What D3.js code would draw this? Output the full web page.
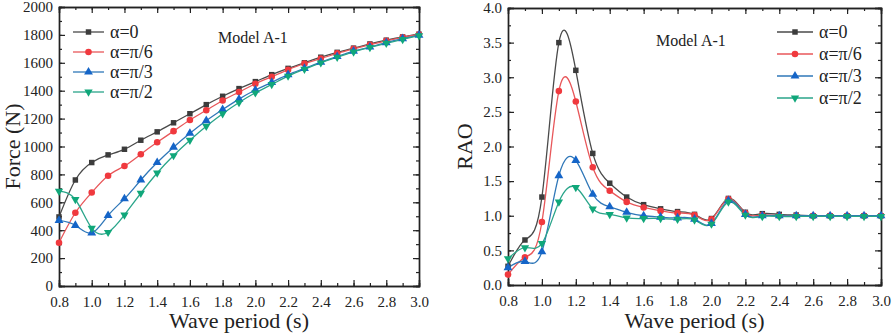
<!DOCTYPE html>
<html>
<head>
<meta charset="utf-8">
<script src="https://cdn.jsdelivr.net/npm/d3@7"></script>
<style>
  body { margin: 0; background: #fff; }
  svg, svg text { font-family: "Liberation Serif", "Times New Roman", serif !important; }
</style>
</head>
<body>
<div id="chart"></div>
<script>
// wave periods, shared by both panels
const periods = [0.8, 0.9, 1.0, 1.1, 1.2, 1.3, 1.4, 1.5, 1.6, 1.7, 1.8, 1.9, 2.0, 2.1, 2.2, 2.3, 2.4, 2.5, 2.6, 2.7, 2.8, 2.9, 3.0]
const seriesNames = ['α=0', 'α=π/6', 'α=π/3', 'α=π/2']

// force (N)
const force0 = [495, 760, 885, 940, 980, 1045, 1105, 1170, 1235, 1300, 1360, 1415, 1465, 1515, 1560, 1600, 1640, 1675, 1705, 1735, 1762, 1785, 1805]
const force30 = [310, 525, 670, 790, 860, 945, 1030, 1110, 1190, 1260, 1330, 1390, 1450, 1500, 1550, 1595, 1630, 1668, 1700, 1730, 1758, 1783, 1803]
const force60 = [470, 435, 380, 505, 625, 760, 885, 995, 1095, 1185, 1265, 1340, 1405, 1460, 1515, 1560, 1605, 1645, 1683, 1713, 1745, 1773, 1798]
const force90 = [680, 620, 415, 385, 510, 665, 810, 935, 1045, 1145, 1235, 1315, 1385, 1445, 1505, 1555, 1600, 1640, 1678, 1710, 1740, 1768, 1795]

// RAO
const rao0 = [0.27, 0.65, 1.27, 3.5, 3.1, 1.9, 1.47, 1.27, 1.16, 1.10, 1.06, 1.02, 0.96, 1.25, 1.05, 1.03, 1.02, 1.01, 1.0, 1.0, 1.0, 1.0, 1.0]
const rao30 = [0.15, 0.40, 0.91, 2.8, 2.65, 1.7, 1.36, 1.20, 1.12, 1.07, 1.04, 1.01, 0.95, 1.24, 1.04, 1.01, 1.0, 1.0, 1.0, 1.0, 1.0, 1.0, 1.0]
const rao60 = [0.25, 0.34, 0.48, 1.58, 1.80, 1.31, 1.13, 1.05, 1.00, 0.98, 0.97, 0.95, 0.89, 1.22, 1.02, 1.0, 1.0, 1.0, 1.0, 1.0, 1.0, 1.0, 1.0]
const rao90 = [0.38, 0.54, 0.60, 1.20, 1.41, 1.10, 1.02, 0.97, 0.96, 0.96, 0.95, 0.94, 0.88, 1.20, 1.01, 0.99, 0.99, 0.99, 0.99, 0.99, 0.99, 0.99, 0.99]

const xTicks = [0.8, 1.0, 1.2, 1.4, 1.6, 1.8, 2.0, 2.2, 2.4, 2.6, 2.8, 3.0]
const forceTicks = [0, 200, 400, 600, 800, 1000, 1200, 1400, 1600, 1800, 2000]
const raoTicks = [0, 0.5, 1.0, 1.5, 2.0, 2.5, 3.0, 3.5, 4.0]

const lineColors = ['#4a4a4a', '#e8575a', '#2f77b8', '#2aa58a']
const markColors = ['#3c3c3c', '#f0393e', '#1565c8', '#10a77a']
const markTypes = [d3.symbolSquare, d3.symbolCircle, d3.symbolTriangle, 'down']

const svg = d3.select('#chart').append('svg').attr('width', 892).attr('height', 333)
  .style('font-family', '"Liberation Serif", serif')

function marker (g, i, x, y) {
  if (markTypes[i] === 'down') {
    g.append('path').attr('d', d3.symbol(d3.symbolTriangle, 30)())
      .attr('transform', 'translate(' + x + ',' + y + ') rotate(180)')
      .attr('fill', markColors[i])
  } else {
    const size = markTypes[i] === d3.symbolSquare ? 30 : 34
    g.append('path').attr('d', d3.symbol(markTypes[i], size)())
      .attr('transform', 'translate(' + x + ',' + y + ')')
      .attr('fill', markColors[i])
  }
}

function panel (opt) {
  const x = d3.scaleLinear().domain([0.8, 3.0]).range([opt.l, opt.r])
  const y = d3.scaleLinear().domain(opt.yDomain).range([opt.b, opt.t])
  const g = svg.append('g')

  // clip for curves
  const clipId = 'clip' + opt.l
  g.append('clipPath').attr('id', clipId).append('rect')
    .attr('x', opt.l).attr('y', opt.t).attr('width', opt.r - opt.l).attr('height', opt.b - opt.t)

  const xMinor = d3.range(8, 31).map(d => d / 10)
  const yMinor = d3.range(0, opt.yTicks.length * 2 - 1).map(i => opt.yDomain[0] + i * opt.yStep / 2)

  // bottom / top axes
  g.append('g').attr('transform', 'translate(0,' + opt.b + ')')
    .call(d3.axisBottom(x).tickValues(xMinor).tickSize(-3).tickFormat(''))
  g.append('g').attr('transform', 'translate(0,' + opt.b + ')')
    .call(d3.axisBottom(x).tickValues(xTicks).tickSize(-6).tickPadding(10).tickFormat(d3.format('.1f')))
  g.append('g').attr('transform', 'translate(0,' + opt.t + ')')
    .call(d3.axisTop(x).tickValues(xMinor).tickSize(-3).tickFormat(''))
  g.append('g').attr('transform', 'translate(0,' + opt.t + ')')
    .call(d3.axisTop(x).tickValues(xTicks).tickSize(-6).tickFormat(''))
  // left / right axes
  g.append('g').attr('transform', 'translate(' + opt.l + ',0)')
    .call(d3.axisLeft(y).tickValues(yMinor).tickSize(-3).tickFormat(''))
  g.append('g').attr('transform', 'translate(' + opt.l + ',0)')
    .call(d3.axisLeft(y).tickValues(opt.yTicks).tickSize(-6).tickPadding(6).tickFormat(opt.yFormat))
  g.append('g').attr('transform', 'translate(' + opt.r + ',0)')
    .call(d3.axisRight(y).tickValues(yMinor).tickSize(-3).tickFormat(''))
  g.append('g').attr('transform', 'translate(' + opt.r + ',0)')
    .call(d3.axisRight(y).tickValues(opt.yTicks).tickSize(-6).tickFormat(''))

  g.selectAll('g').attr('font-family', null)
  g.selectAll('.domain').attr('stroke', '#222').attr('stroke-width', 1.4)
  g.selectAll('.tick line').attr('stroke', '#222').attr('stroke-width', 1.2)
  g.selectAll('.tick text').attr('font-size', 15).attr('fill', '#222')

  // curves
  const line = d3.line().x((d, i) => x(periods[i])).y(d => y(d)).curve(d3.curveNatural)
  opt.series.forEach(function (s, i) {
    g.append('path').attr('d', line(s)).attr('fill', 'none')
      .attr('stroke', lineColors[i]).attr('stroke-width', 1.3)
      .attr('clip-path', 'url(#' + clipId + ')')
  })
  opt.series.forEach(function (s, i) {
    s.forEach(function (v, j) { marker(g, i, x(periods[j]), y(v)) })
  })

  // legend
  seriesNames.forEach(function (name, i) {
    const ly = opt.legY + i * opt.legDy
    g.append('line').attr('x1', opt.legX).attr('x2', opt.legX + opt.legW)
      .attr('y1', ly).attr('y2', ly).attr('stroke', lineColors[i]).attr('stroke-width', 1.3)
    marker(g, i, opt.legX + opt.legW / 2, ly)
    g.append('text').attr('x', opt.legX + opt.legW + 6).attr('y', ly + 6)
      .attr('font-size', 18).attr('fill', '#222').text(name)
  })

  g.append('text').attr('x', opt.modelX).attr('y', opt.modelY)
    .attr('font-size', 16).attr('fill', '#222').text('Model A-1')

  // axis titles
  g.append('text').attr('x', (opt.l + opt.r) / 2).attr('y', 328)
    .attr('text-anchor', 'middle').attr('font-size', 22).attr('fill', '#222').text('Wave period (s)')
  g.append('text').attr('transform', 'translate(' + opt.yTitleX + ',' + (opt.t + opt.b) / 2 + ') rotate(-90)')
    .attr('text-anchor', 'middle').attr('font-size', 22).attr('fill', '#222').text(opt.yTitle)
}

panel({
  l: 59, r: 419, t: 7, b: 286,
  yDomain: [0, 2000], yStep: 200, yTicks: forceTicks, yFormat: d3.format('d'),
  series: [force0, force30, force60, force90],
  legX: 73, legY: 32, legDy: 20, legW: 31,
  modelX: 218, modelY: 43,
  yTitle: 'Force (N)', yTitleX: 20
})

panel({
  l: 508, r: 881, t: 8, b: 285,
  yDomain: [0, 4], yStep: 0.5, yTicks: raoTicks, yFormat: d3.format('.1f'),
  series: [rao0, rao30, rao60, rao90],
  legX: 777, legY: 32, legDy: 22, legW: 36,
  modelX: 656, modelY: 46,
  yTitle: 'RAO', yTitleX: 472
})
</script>
</body>
</html>
